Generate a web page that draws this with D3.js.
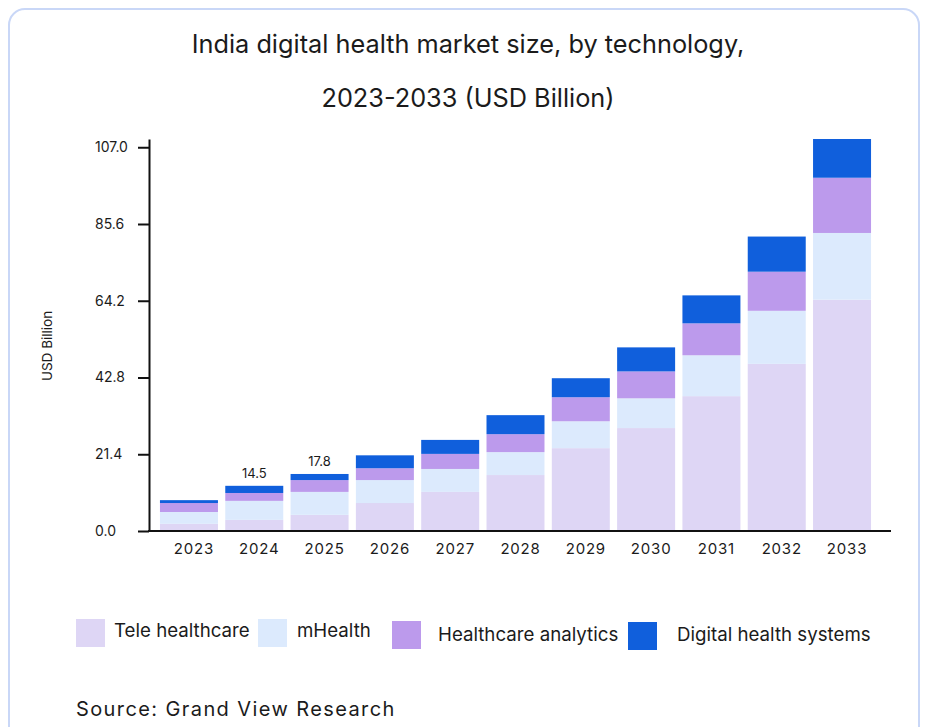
<!DOCTYPE html>
<html>
<head>
<meta charset="utf-8">
<script src="https://cdn.jsdelivr.net/npm/d3@7"></script>
<style>
  body { margin: 0; background: #fff; }
  text { font-family: Inter, "Noto Sans", sans-serif; fill: #1b1b1b; }
</style>
</head>
<body>
<svg id="chart" width="925" height="727"></svg>
<script>
// values (USD Billion)
var years = ['2023', '2024', '2025', '2026', '2027', '2028', '2029', '2030', '2031', '2032', '2033'];
var teleHealthcare = [2.0, 3.1, 4.5, 7.8, 10.9, 15.6, 23.1, 28.7, 37.6, 46.6, 64.5];
var mHealth = [3.3, 5.3, 6.4, 6.4, 6.4, 6.4, 7.5, 8.3, 11.4, 14.8, 18.6];
var healthcareAnalytics = [2.5, 2.2, 3.3, 3.3, 4.2, 5.0, 6.7, 7.5, 8.9, 10.9, 15.4];
var digitalHealthSystems = [0.8, 2.0, 1.7, 3.6, 3.9, 5.3, 5.3, 6.7, 7.8, 9.8, 10.8];

var seriesNames = ['Tele healthcare', 'mHealth', 'Healthcare analytics', 'Digital health systems'];
var seriesColors = ['#ded6f5', '#dceafd', '#bc9aec', '#105fdc'];

var yTicks = [0, 21.4, 42.8, 64.2, 85.6, 107.0];

// value labels shown above two bars
var labelYears = ['2024', '2025'];
var labelTexts = ['14.5', '17.8'];

var svg = d3.select('#chart');

// card outline
svg.append('rect')
  .attr('x', 9).attr('y', 9)
  .attr('width', 910).attr('height', 740)
  .attr('rx', 16)
  .attr('fill', 'none')
  .attr('stroke', '#c9d7f7')
  .attr('stroke-width', 2);

// title
svg.append('text')
  .attr('x', 468).attr('y', 53)
  .attr('text-anchor', 'middle')
  .style('font-size', '25.3px')
  .text('India digital health market size, by technology,');
svg.append('text')
  .attr('x', 468).attr('y', 107)
  .attr('text-anchor', 'middle')
  .style('font-size', '25.3px')
  .text('2023-2033 (USD Billion)');

// build rows for the stack
var keys = ['tele', 'mhealth', 'analytics', 'digital'];
var rows = years.map(function (yr, i) {
  return {
    year: yr,
    tele: teleHealthcare[i],
    mhealth: mHealth[i],
    analytics: healthcareAnalytics[i],
    digital: digitalHealthSystems[i]
  };
});
var stacked = d3.stack().keys(keys)(rows);
var totals = rows.map(function (r) { return r.tele + r.mhealth + r.analytics + r.digital; });

var x = d3.scaleBand()
  .domain(years)
  .range([156.3, 874.7])
  .paddingInner(0.112)
  .paddingOuter(0.056);

var y = d3.scaleLinear()
  .domain([0, d3.max(totals)])
  .range([531, 139]);

var color = d3.scaleOrdinal(keys, seriesColors);

// bars
svg.append('g')
  .selectAll('g')
  .data(stacked)
  .enter()
  .append('g')
  .attr('fill', function (d) { return color(d.key); })
  .selectAll('rect')
  .data(function (d) { return d; })
  .enter()
  .append('rect')
  .attr('x', function (d) { return x(d.data.year); })
  .attr('y', function (d) { return y(d[1]); })
  .attr('width', x.bandwidth())
  .attr('height', function (d) { return y(d[0]) - y(d[1]); });

// labels above two bars
svg.append('g')
  .selectAll('text')
  .data(labelYears)
  .enter()
  .append('text')
  .attr('x', function (d) { return x(d) + x.bandwidth() / 2; })
  .attr('y', function (d) { return y(totals[years.indexOf(d)]) - 8; })
  .attr('text-anchor', 'middle')
  .style('font-size', '13px')
  .text(function (d, i) { return labelTexts[i]; });

// y axis
var yAxis = svg.append('g')
  .attr('transform', 'translate(149,0)')
  .call(d3.axisLeft(y).tickValues(yTicks).tickSize(11).tickSizeOuter(0).tickFormat(d3.format('.1f')));
yAxis.select('.domain').attr('stroke', '#111').attr('stroke-width', 2);
yAxis.selectAll('.tick line').attr('stroke', '#111').attr('stroke-width', 2);
yAxis.selectAll('.tick text')
  .attr('x', -54)
  .attr('text-anchor', 'start')
  .style('font-size', '14px')
  .style('font-family', 'Inter, sans-serif')
  .style('fill', '#1b1b1b');

// x axis
var xAxis = svg.append('g')
  .attr('transform', 'translate(5,531)')
  .call(d3.axisBottom(x).tickSize(0).tickPadding(12));
xAxis.select('.domain').remove();
xAxis.selectAll('.tick text')
  .style('font-size', '15px')
  .style('letter-spacing', '0.8px')
  .style('font-family', 'Inter, sans-serif')
  .style('fill', '#1b1b1b');
svg.append('line')
  .attr('x1', 148).attr('x2', 891)
  .attr('y1', 531).attr('y2', 531)
  .attr('stroke', '#111')
  .attr('stroke-width', 2);

// y axis title
svg.append('text')
  .attr('transform', 'translate(52,346) rotate(-90)')
  .attr('text-anchor', 'middle')
  .style('font-size', '13.5px')
  .text('USD Billion');

// legend
var legendPos = [
  { sx: 76, sy: 619, tx: 114, ty: 637 },
  { sx: 258, sy: 619, tx: 297, ty: 637 },
  { sx: 392, sy: 621, tx: 438, ty: 641 },
  { sx: 628, sy: 622, tx: 677, ty: 641 }
];
var legend = svg.append('g')
  .selectAll('g')
  .data(seriesNames)
  .enter()
  .append('g');
legend.append('rect')
  .attr('x', function (d, i) { return legendPos[i].sx; })
  .attr('y', function (d, i) { return legendPos[i].sy; })
  .attr('width', 29)
  .attr('height', 28)
  .attr('fill', function (d, i) { return seriesColors[i]; });
legend.append('text')
  .attr('x', function (d, i) { return legendPos[i].tx; })
  .attr('y', function (d, i) { return legendPos[i].ty; })
  .style('font-size', '18.7px')
  .text(function (d) { return d; });

// source
svg.append('text')
  .attr('x', 76).attr('y', 716)
  .style('font-size', '20px')
  .style('letter-spacing', '1.4px')
  .text('Source: Grand View Research');
</script>
</body>
</html>
